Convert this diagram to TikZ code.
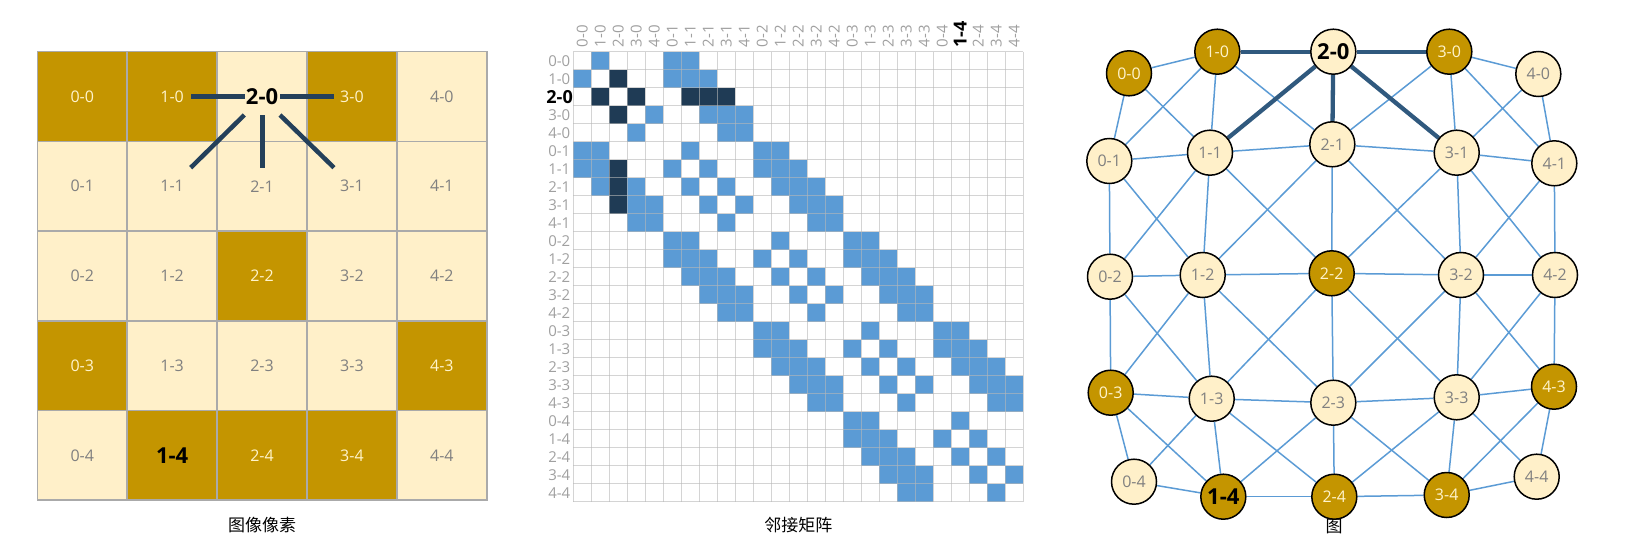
\documentclass[tikz,border=0pt]{standalone}
\usepackage{fontspec}
\setmainfont{Open Sans}
\newfontfamily\cjk{Noto Sans CJK SC}
\usetikzlibrary{backgrounds}
\definecolor{gold}{HTML}{C49500}
\definecolor{cream}{HTML}{FFF0C9}
\definecolor{cellline}{HTML}{AAAAAA}
\definecolor{lighttext}{HTML}{FFF4CC}
\definecolor{graytext}{HTML}{808080}
\definecolor{mblue}{HTML}{5B9BD5}
\definecolor{mdark}{HTML}{1F3B55}
\definecolor{mgrid}{HTML}{B8B8B8}
\definecolor{mlabel}{HTML}{A0A0A0}
\definecolor{annotc}{HTML}{24405A}
\definecolor{thickedge}{HTML}{30597E}
\definecolor{thinedge}{HTML}{5B9BD5}
\newcommand\fsLab{\fontsize{16}{19}\selectfont}
\newcommand\fsBig{\fontsize{22}{25}\selectfont\bfseries}
\newcommand\fsRow{\fontsize{15}{17}\selectfont}
\newcommand\fsRowB{\fontsize{18}{20}\selectfont\bfseries}
\newcommand\fsCol{\fontsize{15}{17}\selectfont}
\newcommand\fsColB{\fontsize{18}{20}\selectfont\bfseries}
\newcommand\fsCap{\fontsize{17}{20}\selectfont\cjk}
\begin{document}
\begin{tikzpicture}[x=1pt,y=-1pt,
  pix/.style={draw=cellline,line width=1.5pt,minimum width=89.9pt,minimum height=89.7pt,inner sep=0pt,anchor=center},
  fg/.style={fill=gold}, fc/.style={fill=cream}, fB/.style={fill=cream}, fK/.style={fill=gold},
  lg/.style={text=lighttext,font=\fsLab,inner sep=1pt},
  lc/.style={text=graytext,font=\fsLab,inner sep=1pt},
  lB/.style={text=black,font=\fsBig,inner sep=1pt},
  lK/.style={text=black,font=\fsBig,inner sep=1pt},
  annot/.style={draw=annotc,line width=4.5pt},
  gnode/.style={circle,draw=black,line width=1.5pt,minimum size=45pt,inner sep=0pt},
  gedge/.style={draw=thinedge,line width=1.5pt},
  hedge/.style={draw=thickedge,line width=4.3pt},
  captext/.style={font=\fsCap,text=black,inner sep=1pt},
  rowlab/.style={anchor=east,inner sep=0.5pt,text=mlabel,font=\fsRow},
  collab/.style={rotate=90,anchor=west,inner sep=0.5pt,text=mlabel,font=\fsCol}
]
\useasboundingbox (0,0) rectangle (1651,551);

% ---------- image pixels ----------
\foreach \i/\j/\t in {0/0/g,1/0/g,2/0/B,3/0/g,4/0/c,
                      0/1/c,1/1/c,2/1/c,3/1/c,4/1/c,
                      0/2/c,1/2/c,2/2/g,3/2/c,4/2/c,
                      0/3/g,1/3/c,2/3/c,3/3/c,4/3/g,
                      0/4/c,1/4/K,2/4/g,3/4/g,4/4/c}{
  \node[pix,f\t] (cell-\i-\j) at ({37.3+89.9*(\i+0.5)},{51.7+89.7*(\j+0.5)}) {};
  \node[l\t] (lab-\i-\j) at (cell-\i-\j.center) {\i-\j};
}
\coordinate (h1s) at (191,96.7);   \coordinate (h1e) at (245,96.7);
\coordinate (h2s) at (280,96.7);   \coordinate (h2e) at (333.5,96.7);
\coordinate (d1s) at (244.3,115);  \coordinate (d1e) at (190.7,167.7);
\coordinate (d2s) at (262.3,115);  \coordinate (d2e) at (262.3,168);
\coordinate (d3s) at (280,115);    \coordinate (d3e) at (334,167.7);
\draw[annot] (h1s) -- (h1e);
\draw[annot] (h2s) -- (h2e);
\draw[annot] (d1s) -- (d1e);
\draw[annot] (d2s) -- (d2e);
\draw[annot] (d3s) -- (d3e);
\node[captext] (cap1) at (262,525) {图像像素};

% ---------- adjacency matrix ----------
\foreach \r in {0,...,24}{
  \foreach \c in {0,...,24}{
    \pgfmathtruncatemacro\adj{(max(abs(mod(\r,5)-mod(\c,5)),abs(floor(\r/5)-floor(\c/5)))==1)?1:0}
    \pgfmathtruncatemacro\hl{(\r==2||\c==2)?1:0}
    \ifnum\adj=1
      \ifnum\hl=1
        \fill[mdark] ({573.3+18*\c},{51.7+18*\r}) rectangle ++(18,18);
      \else
        \fill[mblue] ({573.3+18*\c},{51.7+18*\r}) rectangle ++(18,18);
      \fi
    \fi
  }
}
\foreach \k in {0,...,25}{
  \draw[mgrid,opacity=0.6,line width=0.9pt] ({573.3+18*\k},51.7) -- ({573.3+18*\k},501.7);
  \draw[mgrid,opacity=0.6,line width=0.9pt] (573.3,{51.7+18*\k}) -- (1023.3,{51.7+18*\k});
}
\foreach \r in {0,...,24}{
  \pgfmathtruncatemacro\ri{mod(\r,5)}
  \pgfmathtruncatemacro\rj{floor(\r/5)}
  \ifnum\r=2
    \node[rowlab,text=black,font=\fsRowB] (rl-\r) at (573.5,{51.7+18*\r+9}) {\ri-\rj};
  \else
    \node[rowlab] (rl-\r) at (571,{51.7+18*\r+9}) {\ri-\rj};
  \fi
  \ifnum\r=21
    \node[collab,text=black,font=\fsColB] (cl-\r) at ({573.3+18*\r+9},48) {\ri-\rj};
  \else
    \node[collab] (cl-\r) at ({573.3+18*\r+9},48) {\ri-\rj};
  \fi
}
\node[captext] (cap2) at (798.3,525) {邻接矩阵};

% ---------- graph ----------
\tikzset{
  gg/.style={gnode,fill=gold,text=lighttext,font=\fsLab},
  gc/.style={gnode,fill=cream,text=graytext,font=\fsLab},
  gB/.style={gnode,fill=cream,text=black,font=\fsBig},
  gK/.style={gnode,fill=gold,text=black,font=\fsBig}}
\foreach \i/\j/\x/\y/\t in {
  0/0/1129/73.3/g, 1/0/1217.3/51.7/g, 2/0/1333.3/51.7/B, 3/0/1449.3/51.7/g, 4/0/1538.3/74/c,
  0/1/1109.3/161/c, 1/1/1210/152.7/c, 2/1/1332.3/144.3/c, 3/1/1456.7/152.7/c, 4/1/1554.3/163.3/c,
  0/2/1110/276.7/c, 1/2/1202.7/275/c, 2/2/1331.7/273.3/g, 3/2/1461/275/c, 4/2/1555/275/c,
  0/3/1110.7/392.7/g, 1/3/1211.7/398.7/c, 2/3/1333.3/402.7/c, 3/3/1456.7/397.3/c, 4/3/1554/386.7/g,
  0/4/1134/481.7/c, 1/4/1223.3/496.7/K, 2/4/1334.3/496.7/g, 3/4/1446.7/495/g, 4/4/1536.7/476.7/c}{
  \node[g\t] (g-\i-\j) at (\x,\y) {\i-\j};
}
\begin{scope}[on background layer]
\foreach \i in {0,...,3}{\foreach \j in {0,...,4}{
  \pgfmathtruncatemacro\ii{\i+1}
  \draw[gedge] (g-\i-\j) -- (g-\ii-\j);}}
\foreach \i in {0,...,4}{\foreach \j in {0,...,3}{
  \pgfmathtruncatemacro\jj{\j+1}
  \draw[gedge] (g-\i-\j) -- (g-\i-\jj);}}
\foreach \i in {0,...,3}{\foreach \j in {0,...,3}{
  \pgfmathtruncatemacro\ii{\i+1}
  \pgfmathtruncatemacro\jj{\j+1}
  \draw[gedge] (g-\i-\j) -- (g-\ii-\jj);
  \draw[gedge] (g-\ii-\j) -- (g-\i-\jj);}}
\foreach \n in {1-0,3-0,1-1,2-1,3-1}{
  \draw[hedge] (g-2-0) -- (g-\n);}
\node[captext] (cap3) at (1334,526) {图};
\end{scope}
\end{tikzpicture}
\end{document}
